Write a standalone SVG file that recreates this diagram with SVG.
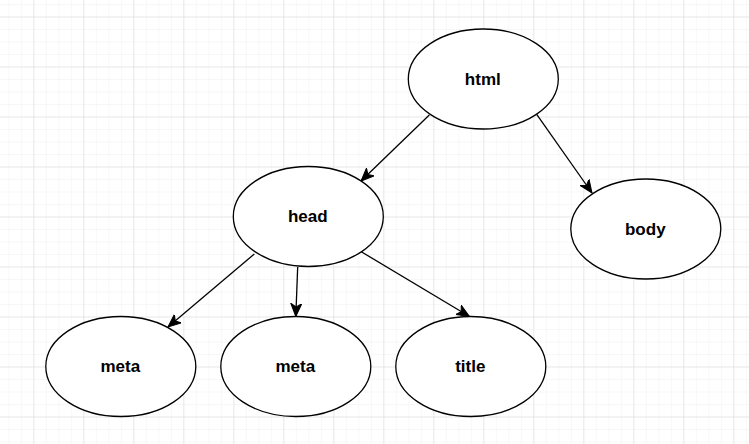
<svg xmlns="http://www.w3.org/2000/svg" width="749" height="444" viewBox="0 0 749 444">
  <defs>
    <pattern id="minor" x="8.33" y="4" width="12.5" height="12.5" patternUnits="userSpaceOnUse">
      <path d="M0,0 H12.5 M0,0 V12.5" fill="none" stroke="#f0f0f0" stroke-width="1"/>
    </pattern>
    <pattern id="major" x="33.33" y="16.5" width="50" height="50" patternUnits="userSpaceOnUse">
      <path d="M0,0 H50 M0,0 V50" fill="none" stroke="#d9d9d9" stroke-width="1"/>
    </pattern>
    <marker id="arrow" markerUnits="userSpaceOnUse" markerWidth="14" markerHeight="12" viewBox="0 0 14 12" refX="13" refY="6" orient="auto">
      <path d="M0,0.5 L13,6 L0,11.5 L3.5,6 Z" fill="#000" stroke="#000" stroke-width="1"/>
    </marker>
  </defs>
  <style>
    .node ellipse { fill: #ffffff; stroke: #000000; stroke-width: 1.3; }
    .node text { font-family: "Liberation Sans", Arial, sans-serif; font-size: 17px; font-weight: bold; fill: #000000; text-anchor: middle; }
    .edge { fill: none; stroke: #000000; stroke-width: 1.3; marker-end: url(#arrow); }
  </style>
  <rect width="749" height="444" fill="#ffffff"/>
  <rect width="749" height="444" fill="url(#minor)"/>
  <rect width="749" height="444" fill="url(#major)"/>

  <g id="connectors">
    <line class="edge" x1="429.3" y1="115" x2="361" y2="181"/>
    <line class="edge" x1="536.7" y1="114.3" x2="592" y2="193"/>
    <line class="edge" x1="254.3" y1="254" x2="168" y2="327"/>
    <line class="edge" x1="297.7" y1="267" x2="295.8" y2="316.5"/>
    <line class="edge" x1="361.7" y1="252" x2="469.5" y2="316.5"/>
  </g>

  <g id="node-html" class="node">
    <ellipse cx="483.3" cy="79" rx="75" ry="50"/>
    <text x="482.8" y="84.5">html</text>
  </g>
  <g id="node-body" class="node">
    <ellipse cx="645.8" cy="229" rx="75" ry="50"/>
    <text x="645.3" y="234.5">body</text>
  </g>
  <g id="node-head" class="node">
    <ellipse cx="308.3" cy="216.5" rx="75" ry="50"/>
    <text x="307.8" y="221.5">head</text>
  </g>
  <g id="node-meta1" class="node">
    <ellipse cx="120.8" cy="366.5" rx="75" ry="50"/>
    <text x="120.3" y="371.5">meta</text>
  </g>
  <g id="node-meta2" class="node">
    <ellipse cx="295.8" cy="366.5" rx="75" ry="50"/>
    <text x="295.3" y="371.5">meta</text>
  </g>
  <g id="node-title" class="node">
    <ellipse cx="470.8" cy="366.5" rx="75" ry="50"/>
    <text x="470.3" y="371.5">title</text>
  </g>
</svg>
